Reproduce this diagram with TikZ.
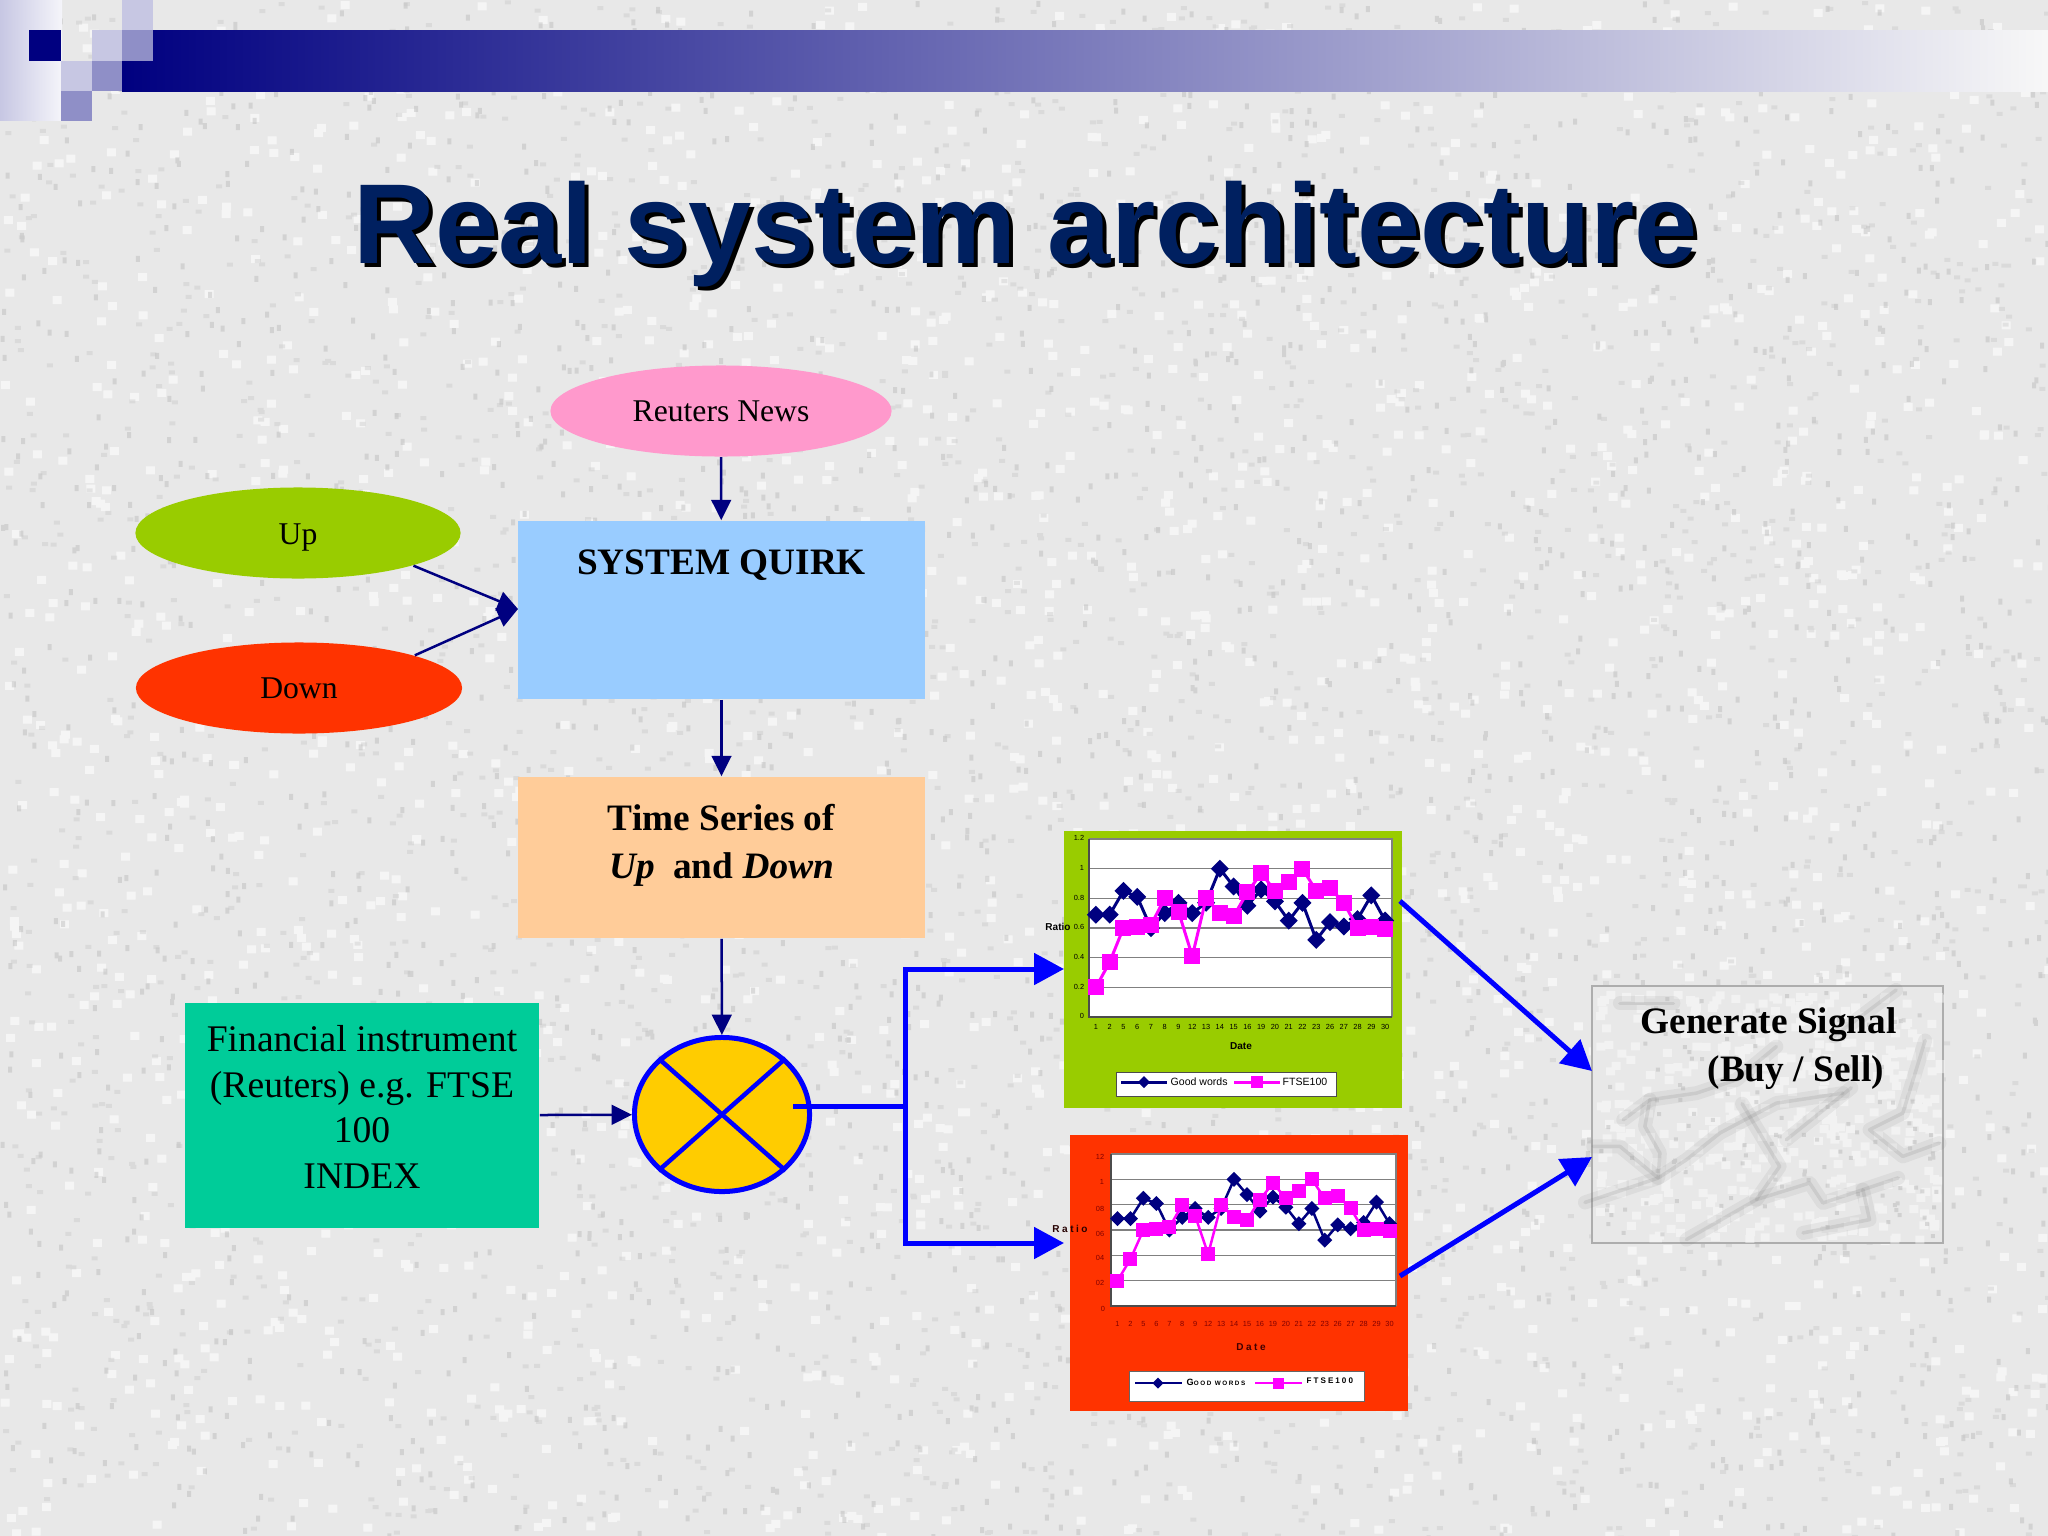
\documentclass[tikz,border=0pt]{standalone}
\usepackage{fontspec}
\setmainfont{Liberation Serif}
\newfontfamily\arialfont{Liberation Sans}
\newfontfamily\spacedfont[LetterSpace=25]{Liberation Sans}
\usetikzlibrary{arrows.meta,shapes.geometric,decorations.pathmorphing}

\definecolor{navyink}{HTML}{000080}
\definecolor{titleink}{HTML}{002060}
\definecolor{pureblue}{HTML}{0000FF}
\definecolor{newspink}{HTML}{FF99CC}
\definecolor{upgreen}{HTML}{99CC00}
\definecolor{downred}{HTML}{FF3300}
\definecolor{quirkblue}{HTML}{99CCFF}
\definecolor{seriesorange}{HTML}{FFCC99}
\definecolor{instrumentgreen}{HTML}{00CC99}
\definecolor{mixeryellow}{HTML}{FFCC00}
\definecolor{ftsepink}{HTML}{FF00FF}
\definecolor{chartgrey}{HTML}{808080}
\definecolor{redchartink}{HTML}{800000}

\tikzset{
	soft/.style={ellipse, draw=none, minimum width=3.41cm, minimum height=0.91cm, inner sep=0pt, font=\fontsize{9}{11}\selectfont},
	plainbox/.style={rectangle, draw=none, inner sep=0pt},
	bigtext/.style={align=center, inner sep=0pt, font=\fontsize{10.7}{13}\selectfont},
	boldtext/.style={align=center, inner sep=0pt, font=\fontsize{10.6}{13.7}\selectfont\bfseries},
	thinarrow/.style={draw=navyink, line width=0.25mm, -{Triangle[length=5.8pt,width=5.6pt]}},
	thickarrow/.style={draw=pureblue, line width=0.5mm, -{Triangle[length=8.5pt,width=8.8pt]}},
	thickline/.style={draw=pureblue, line width=0.5mm},
	ticktext/.style={inner sep=0pt, font=\arialfont\fontsize{2.1}{2.1}\selectfont},
	crack/.style={decorate, decoration={random steps, segment length=16, amplitude=9}},
}

% chart: prefix, left, top, right, bottom, diamond size, square size, line width, ink
\newcommand{\tickgap}{10}
\newcommand{\ratiochart}[9]{
	\fill[white] (#2,#3) rectangle (#4,#5);
	\foreach \s in {0.2,0.4,...,1.01}
		\draw[chartgrey, line width=0.15mm] (#2,{#5-\s*(#5-#3)/1.2}) -- (#4,{#5-\s*(#5-#3)/1.2});
	\draw[chartgrey, line width=0.2mm] (#2,#3) -- (#4,#3) -- (#4,#5);
	\draw[black!70, line width=0.15mm] (#2,#3) -- (#2,#5) -- (#4,#5);
	\foreach \d [count=\i] in {1,2,5,6,7,8,9,12,13,14,15,16,19,20,21,22,23,26,27,28,29,30}{
		\pgfmathsetmacro\px{#2+(\i-0.5)*(#4-#2)/22}
		\node[ticktext, text=#9] (#1x\i) at (\px,#5+\tickgap) {\d};
	}
	\foreach \v [count=\i] in {0.69,0.69,0.85,0.81,0.6,0.7,0.77,0.7,0.77,1,0.88,0.75,0.86,0.78,0.65,0.77,0.52,0.64,0.61,0.66,0.82,0.65}{
		\pgfmathsetmacro\px{#2+(\i-0.5)*(#4-#2)/22}
		\pgfmathsetmacro\py{#5-\v*(#5-#3)/1.2}
		\coordinate (#1g\i) at (\px,\py);
	}
	\foreach \v [count=\i] in {0.2,0.37,0.6,0.61,0.62,0.8,0.71,0.41,0.8,0.7,0.68,0.84,0.97,0.85,0.91,1,0.85,0.87,0.77,0.6,0.61,0.59}{
		\pgfmathsetmacro\px{#2+(\i-0.5)*(#4-#2)/22}
		\pgfmathsetmacro\py{#5-\v*(#5-#3)/1.2}
		\coordinate (#1f\i) at (\px,\py);
	}
	\foreach \i [remember=\i as \j (initially 1)] in {2,...,22}
		\draw[navyink, line width=#8, line cap=round] (#1g\j) -- (#1g\i);
	\foreach \i in {1,...,22}
		\fill[navyink] (#1g\i) +(-#6,0) -- +(0,-#6) -- +(#6,0) -- +(0,#6) -- cycle;
	\foreach \i [remember=\i as \j (initially 1)] in {2,...,22}
		\draw[ftsepink, line width=#8, line cap=round] (#1f\j) -- (#1f\i);
	\foreach \i in {1,...,22}
		\fill[ftsepink] (#1f\i) +(-#7,-#7) rectangle +(#7,#7);
}

\newcommand{\marblecracks}{
	\draw[crack] (70,530) -- (150,530) -- (265,625) -- (350,570) -- (450,490) -- (620,400) -- (820,370);
	\draw[crack] (150,100) -- (230,100) -- (300,60);
	\draw[crack] (160,450) -- (240,390) -- (380,370) -- (500,330) -- (620,230);
	\draw[crack] (240,390) -- (225,470) -- (270,550) -- (265,625) -- (190,650) -- (180,710) -- (250,770);
	\draw[crack] (1110,520) -- (1000,560) -- (900,480) -- (1000,430) -- (1040,300) -- (980,230);
	\draw[crack] (350,810) -- (560,690) -- (630,590) -- (600,540) -- (440,560);
	\draw[crack] (560,690) -- (720,640) -- (760,700) -- (880,660) -- (990,680);
	\draw[crack] (880,660) -- (900,750) -- (700,790);
	\draw[crack] (980,60) -- (940,90) -- (760,60);
	\draw[crack] (650,510) -- (700,470) -- (850,360);
}

\begin{document}
\begin{tikzpicture}[x=0.01cm, y=-0.01cm]
	\useasboundingbox (0,0) rectangle (2048,1536);

	% granite background
	\fill[black!9] (0,0) rectangle (2048,1536);
	\pgfmathsetseed{11}
	\fill[white, opacity=0.6] \foreach \k in {1,...,2000} {({rnd*2048},{rnd*1536}) rectangle +(9,8)};
	\fill[black!30, opacity=0.4] \foreach \k in {1,...,2300} {({rnd*2048},{rnd*1536}) rectangle +(4,6)};
	\fill[black!22, opacity=0.4] \foreach \k in {1,...,2300} {({rnd*2048},{rnd*1536}) rectangle +(6,4)};

	% header
	\shade[left color=navyink, right color=black!3!white] (122,30) rectangle (2048,91);
	\shade[left color=navyink!22, right color=navyink!4] (0,0) rectangle (62,120);
	\fill[navyink] (29,30) rectangle (61,61);
	\fill[navyink!22] (61,61) rectangle (92,91);
	\fill[navyink!22] (92,30) rectangle (122,61);
	\fill[navyink!22] (122,0) rectangle (153,30);
	\fill[navyink!44] (122,30) rectangle (153,61);
	\fill[navyink!44] (92,61) rectangle (122,91);
	\fill[navyink!44] (61,91) rectangle (92,121);

	% title
	\node[text=black, font=\arialfont\fontsize{32.3}{36}\selectfont\bfseries] (titleshadow) at (1030,238) {Real system architecture};
	\node[text=titleink, font=\arialfont\fontsize{32.3}{36}\selectfont\bfseries] (title) at (1026,234) {Real system architecture};

	% inputs and boxes
	\node[soft, fill=newspink] (news) at (721,411) {Reuters News};
	\node[soft, fill=upgreen, minimum width=3.25cm] (up) at (298,533) {\raisebox{-3.2pt}[0pt][0pt]{Up}};
	\node[soft, fill=downred, minimum width=3.26cm] (down) at (299,688) {Down};
	\node[plainbox, fill=quirkblue, minimum width=4.07cm, minimum height=1.78cm] (quirk) at (721.5,610) {};
	\node[boldtext] (quirklabel) at (721.5,565) {SYSTEM QUIRK};
	\node[plainbox, fill=seriesorange, minimum width=4.07cm, minimum height=1.61cm] (series) at (721.5,857.5) {};
	\node[boldtext] (serieslabel) at (721.5,845) {Time Series of\\\textit{Up}~~and \textit{Down}};
	\node[plainbox, fill=instrumentgreen, minimum width=3.54cm, minimum height=2.25cm] (instrument) at (362,1115.5) {};
	\node[bigtext] (instrumentlabel) at (362,1107) {Financial instrument\\(Reuters) e.g. FTSE\\100\\INDEX};
	\node[ellipse, draw=pureblue, fill=mixeryellow, line width=0.5mm, minimum width=1.75cm, minimum height=1.54cm, inner sep=0pt] (mixer) at (722,1114.5) {};
	\draw[thickline, line width=0.45mm] (mixer.north west) -- (mixer.south east);
	\draw[thickline, line width=0.45mm] (mixer.north east) -- (mixer.south west);

	% green chart
	\node[plainbox, fill=upgreen, minimum width=3.38cm, minimum height=2.77cm] (greenpanel) at (1233,969.5) {};
	\ratiochart{gc}{1089}{839}{1392}{1017}{9}{8}{0.3mm}{black}
	\node[ticktext] (gc12) at (1079,838) {1.2};
	\node[ticktext] (gc10) at (1082,868) {1};
	\node[ticktext] (gc08) at (1079,898) {0.8};
	\node[ticktext] (gc06) at (1079,927) {0.6};
	\node[ticktext] (gc04) at (1079,957) {0.4};
	\node[ticktext] (gc02) at (1079,987) {0.2};
	\node[ticktext] (gc00) at (1082,1016) {0};
	\node[font=\arialfont\fontsize{2.85}{3}\selectfont\bfseries, inner sep=0pt] (gcratio) at (1058,927) {Ratio};
	\node[font=\arialfont\fontsize{2.85}{3}\selectfont\bfseries, inner sep=0pt] (gcdate) at (1241,1046) {Date};
	\node[plainbox, fill=white, draw=black!70, line width=0.05mm, minimum width=2.2cm, minimum height=0.24cm] (gclegend) at (1226,1084) {};
	\draw[navyink, line width=0.3mm] (1121,1082) -- (1167,1082);
	\fill[navyink] (1144,1082) +(-6,0) -- +(0,-6) -- +(6,0) -- +(0,6) -- cycle;
	\node[font=\arialfont\fontsize{3}{3}\selectfont, inner sep=0pt, anchor=west] (gcgood) at (1170,1082) {Good words};
	\draw[ftsepink, line width=0.3mm] (1234,1082) -- (1280,1082);
	\fill[ftsepink] (1257,1082) +(-6,-6) rectangle +(6,6);
	\node[font=\arialfont\fontsize{3}{3}\selectfont, inner sep=0pt, anchor=west] (gcftse) at (1282,1082) {FTSE100};

	% red chart
	\node[plainbox, fill=downred, minimum width=3.38cm, minimum height=2.76cm] (redpanel) at (1239,1273) {};
	\renewcommand{\tickgap}{18}
	\ratiochart{rc}{1111}{1154}{1396}{1306}{7.5}{7}{0.25mm}{redchartink}
	\node[ticktext, text=redchartink] (rc12) at (1100,1157) {12};
	\node[ticktext, text=redchartink] (rc10) at (1102,1182) {1};
	\node[ticktext, text=redchartink] (rc08) at (1100,1209) {08};
	\node[ticktext, text=redchartink] (rc06) at (1100,1234) {06};
	\node[ticktext, text=redchartink] (rc04) at (1100,1258) {04};
	\node[ticktext, text=redchartink] (rc02) at (1100,1283) {02};
	\node[ticktext, text=redchartink] (rc00) at (1103,1309) {0};
	\node[text=black!85!red, font=\spacedfont\fontsize{2.85}{3}\selectfont\bfseries, inner sep=0pt] (rcratio) at (1070,1229) {Ratio};
	\node[text=black!75!red, font=\spacedfont\fontsize{2.85}{3}\selectfont\bfseries, inner sep=0pt] (rcdate) at (1251,1347) {Date};
	\node[plainbox, fill=white, draw=black!60, line width=0.05mm, minimum width=2.35cm, minimum height=0.3cm] (rclegend) at (1246.5,1386) {};
	\draw[navyink, line width=0.2mm] (1135,1383) -- (1182,1383);
	\fill[navyink] (1158,1383) +(-5.5,0) -- +(0,-5.5) -- +(5.5,0) -- +(0,5.5) -- cycle;
	\node[font=\spacedfont\fontsize{1.8}{2}\selectfont\bfseries, inner sep=0pt, anchor=west] (rcgood) at (1186,1382) {{\fontsize{2.6}{3}\selectfont G}OOD WORDS};
	\draw[ftsepink, line width=0.2mm] (1255,1383) -- (1302,1383);
	\fill[ftsepink] (1278,1383) +(-5.5,-5.5) rectangle +(5.5,5.5);
	\node[font=\spacedfont\fontsize{2.3}{3}\selectfont\bfseries, inner sep=0pt, anchor=west] (rcftse) at (1306,1381) {FTSE100};

	% marble box
	\node[plainbox, fill=black!9, draw=black!32, line width=0.2mm, minimum width=3.51cm, minimum height=2.57cm] (signal) at (1767.5,1114.5) {};
	\fill[white, opacity=0.45] \foreach \k in {1,...,400} {({1596+rnd*340},{990+rnd*246}) rectangle +(9,8)};
	\begin{scope}[shift={(1570,970)}, x=0.00333cm, y=-0.00333cm, black!55, line join=round, line cap=round]
		\begin{scope}[opacity=0.1, line width=1.4mm]
			\marblecracks
		\end{scope}
		\begin{scope}[opacity=0.16, line width=0.35mm]
			\marblecracks
		\end{scope}
	\end{scope}
	\fill[black!35, opacity=0.35] \foreach \k in {1,...,120} {({1596+rnd*340},{990+rnd*246}) rectangle +(4,4)};
	\node[boldtext, anchor=west] (signaltop) at (1640,1025) {Generate Signal};
	\node[boldtext, anchor=west] (signalbottom) at (1707,1073) {(Buy / Sell)};

	% connectors
	\draw[thinarrow] (news) -- (quirk);
	\coordinate (quirkin) at (518,609);
	\draw[thinarrow] (up.south east) -- (quirkin);
	\draw[thinarrow] (down.north east) -- (quirkin);
	\draw[thinarrow] (quirk) -- (series);
	\draw[thinarrow] (series) -- (mixer);
	\draw[thinarrow] (instrument) -- (mixer);

	\coordinate (mixerout) at (793,1106);
	\coordinate (branch) at (905,1106);
	\coordinate (greenin) at (1064,969);
	\coordinate (redin) at (1064,1243);
	\draw[thickline] (mixerout) -- (branch);
	\draw[thickarrow] (branch) |- (greenin);
	\draw[thickarrow] (branch) |- (redin);
	\coordinate (greenout) at (1400,901);
	\coordinate (redout) at (1400,1276);
	\coordinate (signalup) at (1592,1071);
	\coordinate (signaldown) at (1592,1157);
	\draw[thickarrow] (greenout) -- (signalup);
	\draw[thickarrow] (redout) -- (signaldown);
\end{tikzpicture}
\end{document}
